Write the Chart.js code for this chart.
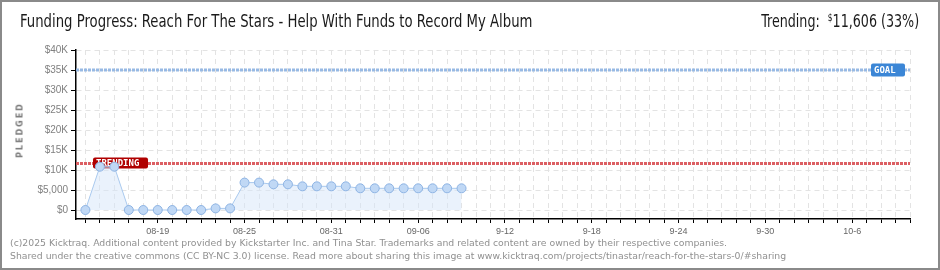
<!DOCTYPE html>
<html>
<head>
<meta charset="utf-8">
<script src="https://cdn.jsdelivr.net/npm/chart.js@4/dist/chart.umd.min.js"></script>
<style>
  body { margin: 0; background: #fff; }
  #wrap { position: relative; width: 940px; height: 270px; overflow: hidden; background: #fff; }
  #frame { position: absolute; left: 0; top: 0; width: 940px; height: 270px; box-sizing: border-box; border: 2px solid #8a8a8a; pointer-events: none; }
  canvas { position: absolute; left: 0; top: 0; }
  .title { position: absolute; left: 20px; top: 11px; font: 17px "Liberation Sans Narrow", "DejaVu Sans Condensed", sans-serif; color: #1a1a1a; white-space: nowrap; transform: scaleX(0.866); transform-origin: left top; }
  .trend { position: absolute; right: 21px; top: 11px; font: 17px "Liberation Sans Narrow", "DejaVu Sans Condensed", sans-serif; color: #1a1a1a; white-space: nowrap; transform: scaleX(0.83); transform-origin: right top; }
  .trend sup { font-size: 10px; vertical-align: 6px; }
  .ylab { position: absolute; left: 20px; top: 130px; transform: translate(-50%, -50%) rotate(-90deg); font: bold 8px "DejaVu Sans", sans-serif; letter-spacing: 2px; color: #777; }
  .foot { position: absolute; left: 10px; font: 9.3px "DejaVu Sans", sans-serif; color: #909090; white-space: nowrap; }
</style>
</head>
<body>
<div id="wrap">
  <canvas id="chart" width="940" height="270"></canvas>
  <div class="title">Funding Progress: Reach For The Stars - Help With Funds to Record My Album</div>
  <div class="trend">Trending:&nbsp; <sup>$</sup>11,606 (33%)</div>
  <div class="ylab">PLEDGED</div>
  <div class="foot" style="top:237px">(c)2025 Kicktraq. Additional content provided by Kickstarter Inc. and Tina Star. Trademarks and related content are owned by their respective companies.</div>
  <div class="foot" style="top:250px">Shared under the creative commons (CC BY-NC 3.0) license. Read more about sharing this image at www.kicktraq.com/projects/tinastar/reach-for-the-stars-0/#sharing</div>
  <div id="frame"></div>
</div>
<script>
// one entry per day of the campaign
const days = ['08-14','08-15','08-16','08-17','08-18','08-19','08-20','08-21','08-22','08-23','08-24',
  '08-25','08-26','08-27','08-28','08-29','08-30','08-31','09-01','09-02','09-03','09-04','09-05',
  '09-06','09-07','09-08','09-09','09-10','09-11','09-12','09-13','09-14','09-15','09-16','09-17',
  '09-18','09-19','09-20','09-21','09-22','09-23','09-24','09-25','09-26','09-27','09-28','09-29',
  '09-30','10-01','10-02','10-03','10-04','10-05','10-06','10-07','10-08','10-09','10-10']
const pledged = [0, 10830, 10830, 0, 0, 0, 0, 0, 0, 400, 400, 6850, 6850, 6420, 6420,
  5920, 5920, 5920, 5920, 5420, 5420, 5420, 5420, 5420, 5420, 5420, 5420]
const goal = 35000
const trending = 11606

const tickDays = ['08-19','08-25','08-31','09-06','09-12','09-18','09-24','09-30','10-06']
const tickLabels = ['08-19','08-25','08-31','09-06','9-12','9-18','9-24','9-30','10-6']
const yTickValues = [0, 5000, 10000, 15000, 20000, 25000, 30000, 35000, 40000]
const yTickLabels = ['$0','$5,000','$10K','$15K','$20K','$25K','$30K','$35K','$40K']

const xMin = -0.65
const xMax = days.length - 1

// GOAL / TRENDING tags, drawn right after their own line so the points stay on top
const tagPlugin = {
  id: 'tags',
  afterDatasetDraw(chart, args) {
    const ctx = chart.ctx
    const area = chart.chartArea
    const y = chart.scales.y
    function tag(text, x, yv, w, h, dy, color) {
      const py = Math.round(y.getPixelForValue(yv)) + dy
      ctx.save()
      ctx.fillStyle = color
      ctx.beginPath()
      ctx.roundRect(x, py - h / 2, w, h, 2)
      ctx.fill()
      ctx.fillStyle = '#fff'
      ctx.font = 'bold 9px "DejaVu Sans Mono", monospace'
      ctx.textBaseline = 'middle'
      ctx.fillText(text, x + 3, py + 0.5)
      ctx.restore()
    }
    if (args.index === 1) tag('GOAL', area.right - 39, goal, 34, 13, 0, '#3b86d6')
    if (args.index === 2) tag('TRENDING', area.left + 17, trending, 55, 11, -1, '#b00000')
  }
}

new Chart(document.getElementById('chart'), {
  type: 'line',
  data: {
    datasets: [
      {
        data: pledged.map((v, i) => ({ x: i, y: v })),
        borderColor: '#a9c9ee',
        borderWidth: 1,
        backgroundColor: 'rgba(214,230,250,0.5)',
        fill: 'origin',
        tension: 0,
        pointRadius: 4.5,
        pointBackgroundColor: '#c0d8f5',
        pointBorderColor: '#8db3e3',
        pointBorderWidth: 1,
        order: 1
      },
      {
        data: [{ x: xMin, y: goal }, { x: xMax, y: goal }],
        borderColor: '#97b9e4',
        borderWidth: 3,
        borderDash: [3, 1],
        pointRadius: 0,
        order: 2
      },
      {
        data: [{ x: xMin, y: trending }, { x: xMax, y: trending }],
        borderColor: '#dc5f63',
        borderWidth: 3,
        borderDash: [3, 1],
        pointRadius: 0,
        order: 2
      }
    ]
  },
  options: {
    responsive: false,
    animation: false,
    layout: { padding: { top: 50, right: 30, left: 0, bottom: 0 } },
    plugins: { legend: { display: false }, tooltip: { enabled: false } },
    scales: {
      x: {
        type: 'linear',
        min: xMin,
        max: xMax,
        afterBuildTicks: s => { s.ticks = days.map((d, i) => ({ value: i })) },
        afterFit: s => { s.height = 51 },
        ticks: {
          autoSkip: false,
          maxRotation: 0,
          padding: 3,
          color: '#666',
          font: { family: 'Liberation Sans', size: 9 },
          callback: v => {
            const k = tickDays.indexOf(days[v])
            return k < 0 ? '' : tickLabels[k]
          }
        },
        grid: { color: '#e3e3e3', tickColor: '#000', tickLength: 4, lineWidth: 1 },
        border: { color: '#000', width: 1.5, dash: [5, 4] }
      },
      y: {
        min: -2250,
        max: 40000,
        afterBuildTicks: s => {
          const t = []
          for (let v = 0; v <= 40000; v += 2500) t.push({ value: v })
          s.ticks = t
        },
        afterFit: s => { s.width = 76 },
        ticks: {
          padding: 3,
          color: '#808080',
          font: { family: 'Liberation Sans', size: 10 },
          callback: v => {
            const k = yTickValues.indexOf(v)
            return k < 0 ? '' : yTickLabels[k]
          }
        },
        grid: {
          color: c => c.tick && c.tick.value % 5000 === 0 ? '#e3e3e3' : 'rgba(0,0,0,0)',
          tickColor: c => c.tick && c.tick.value % 5000 === 0 ? '#000' : '#e00000',
          tickLength: 5,
          lineWidth: 1
        },
        border: { color: '#000', width: 1.5, dash: [5, 4] }
      }
    }
  },
  plugins: [tagPlugin]
})
</script>
</body>
</html>
